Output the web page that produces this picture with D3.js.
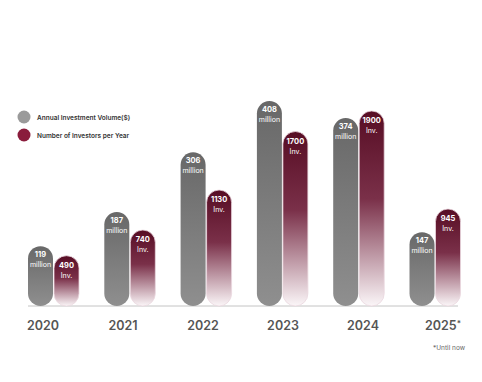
<!DOCTYPE html>
<html>
<head>
<meta charset="utf-8">
<script src="https://cdn.jsdelivr.net/npm/d3@7"></script>
<style>
  body { margin: 0; background: #fff; }
  svg text { font-family: Inter, "Open Sans", sans-serif; }
</style>
</head>
<body>
<div id="chart"></div>
<script>
// data
var years = ["2020", "2021", "2022", "2023", "2024", "2025"];
var volume = [119, 187, 306, 408, 374, 147];      // million $
var investors = [490, 740, 1130, 1700, 1900, 945]; // investors

var svgWidth = 482;
var svgHeight = 382;
var baseY = 306;
var barW = 25;

var svg = d3.select("#chart")
  .append("svg")
  .attr("width", svgWidth)
  .attr("height", svgHeight);

var defs = svg.append("defs");

var gGray = defs.append("linearGradient")
  .attr("id", "gradGray").attr("x1", 0).attr("y1", 0).attr("x2", 0).attr("y2", 1);
gGray.append("stop").attr("offset", "0%").attr("stop-color", "#686868");
gGray.append("stop").attr("offset", "100%").attr("stop-color", "#8f8f8f");

var gRed = defs.append("linearGradient")
  .attr("id", "gradRed").attr("x1", 0).attr("y1", 0).attr("x2", 0).attr("y2", 1);
gRed.append("stop").attr("offset", "0%").attr("stop-color", "#570d24");
gRed.append("stop").attr("offset", "45%").attr("stop-color", "#7a3049");
gRed.append("stop").attr("offset", "100%").attr("stop-color", "#fbf6f8");

// scales
var xBar = d3.scalePoint().domain(years).range([53.5, 435]);
var xLabel = d3.scalePoint().domain(years).range([43, 443]);
var yVol = d3.scaleLinear().domain([0, 408]).range([baseY, 101]);
var yInv = d3.scaleLinear().domain([0, 1900]).range([baseY, 111]);

var rows = years.map(function (y, i) {
  return { year: y, vol: volume[i], inv: investors[i] };
});

// baseline
svg.append("line")
  .attr("x1", 28).attr("x2", 458)
  .attr("y1", baseY).attr("y2", baseY)
  .attr("stroke", "#c4c4c4").attr("stroke-width", 1);

// gray bars
svg.selectAll(".volBar")
  .data(rows)
  .enter()
  .append("rect")
  .attr("class", "volBar")
  .attr("x", d => xBar(d.year) - barW - 0.5)
  .attr("y", d => yVol(d.vol))
  .attr("width", barW)
  .attr("height", d => baseY - yVol(d.vol))
  .attr("rx", barW / 2)
  .attr("fill", "url(#gradGray)");

// maroon bars
svg.selectAll(".invBar")
  .data(rows)
  .enter()
  .append("rect")
  .attr("class", "invBar")
  .attr("x", d => xBar(d.year) + 0.5)
  .attr("y", d => yInv(d.inv))
  .attr("width", barW)
  .attr("height", d => baseY - yInv(d.inv))
  .attr("rx", barW / 2)
  .attr("fill", "url(#gradRed)")
  .attr("stroke", "#ead7de")
  .attr("stroke-width", 0.8);

// labels inside gray bars
var volText = svg.selectAll(".volText")
  .data(rows)
  .enter()
  .append("text")
  .attr("class", "volText")
  .attr("text-anchor", "middle")
  .attr("fill", "#fff");
volText.append("tspan")
  .attr("x", d => xBar(d.year) - barW / 2 - 0.5)
  .attr("y", d => yVol(d.vol) + 11)
  .attr("font-size", "7.5px")
  .attr("font-weight", 700)
  .text(d => d.vol);
volText.append("tspan")
  .attr("x", d => xBar(d.year) - barW / 2 - 0.5)
  .attr("y", d => yVol(d.vol) + 21)
  .attr("font-size", "7px")
  .text("million");

// labels inside maroon bars
var invText = svg.selectAll(".invText")
  .data(rows)
  .enter()
  .append("text")
  .attr("class", "invText")
  .attr("text-anchor", "middle")
  .attr("fill", "#fff");
invText.append("tspan")
  .attr("x", d => xBar(d.year) + barW / 2 + 0.5)
  .attr("y", d => yInv(d.inv) + 12)
  .attr("font-size", "7.5px")
  .attr("font-weight", 700)
  .text(d => d.inv);
invText.append("tspan")
  .attr("x", d => xBar(d.year) + barW / 2 + 0.5)
  .attr("y", d => yInv(d.inv) + 22)
  .attr("font-size", "7px")
  .text("Inv.");

// year labels
var yearText = svg.selectAll(".yearText")
  .data(years)
  .enter()
  .append("text")
  .attr("class", "yearText")
  .attr("x", d => xLabel(d))
  .attr("y", 330)
  .attr("text-anchor", "middle")
  .attr("font-size", "12.5px")
  .attr("font-weight", 600)
  .attr("fill", "#555")
  .text(d => d);
yearText.filter(d => d === "2025")
  .append("tspan")
  .attr("dy", -4)
  .attr("font-size", "8px")
  .text("*");

svg.append("text")
  .attr("x", 465).attr("y", 350)
  .attr("text-anchor", "end")
  .attr("font-size", "6.5px")
  .attr("fill", "#666")
  .text("*Until now");

// legend
var legend = [
  { label: "Annual Investment Volume($)", color: "#9a9a9a" },
  { label: "Number of Investors per Year", color: "#8a1c3c" }
];
var lg = svg.selectAll(".legend")
  .data(legend)
  .enter()
  .append("g")
  .attr("class", "legend")
  .attr("transform", (d, i) => `translate(24, ${117 + i * 18})`);
lg.append("circle").attr("r", 6.5).attr("fill", d => d.color);
lg.append("text")
  .attr("x", 13).attr("y", 2.5)
  .attr("font-size", "6.5px")
  .attr("font-weight", 600)
  .attr("fill", "#333")
  .text(d => d.label);
</script>
</body>
</html>
